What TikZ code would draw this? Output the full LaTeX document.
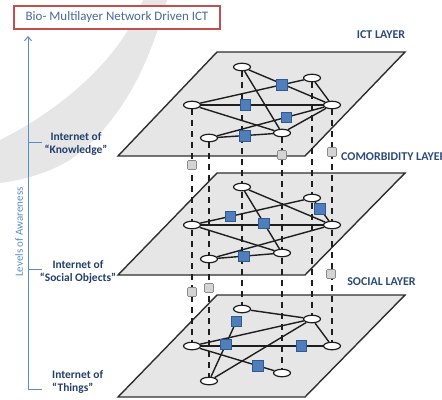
\documentclass[tikz,border=0pt]{standalone}
\usepackage{fontspec}
\setmainfont{Carlito}
\usetikzlibrary{shapes.geometric,arrows.meta,calc}
\pgfdeclarelayer{bg}
\pgfdeclarelayer{mid}
\pgfsetlayers{bg,mid,main}
\definecolor{planefill}{HTML}{E6E6E6}
\definecolor{planeline}{HTML}{2E2E2E}
\definecolor{sqblue}{HTML}{4F7EBB}
\definecolor{sqblueline}{HTML}{2F5A8F}
\definecolor{sqgray}{HTML}{D4D4D4}
\definecolor{sqgrayline}{HTML}{8A8A8A}
\definecolor{labelblue}{HTML}{243F6B}
\definecolor{layerblue}{HTML}{2C4A78}
\definecolor{titleblue}{HTML}{4A6A9A}
\definecolor{titlered}{HTML}{C0504D}
\definecolor{axisblue}{HTML}{5B8BC8}
\definecolor{wmark}{HTML}{E6E6E6}
\definecolor{edgecol}{HTML}{1E1E1E}
\begin{document}
\begin{tikzpicture}[x=1bp,y=-1bp,
  nd/.style={ellipse, draw=edgecol, fill=white, line width=1.2bp, minimum width=17bp, minimum height=7.5bp, inner sep=0pt},
  bsq/.style={rectangle, draw=sqblueline, fill=sqblue, line width=0.6bp, minimum size=10.5bp, inner sep=0pt},
  gsq/.style={rectangle, rounded corners=1bp, draw=sqgrayline, fill=sqgray, line width=0.6bp, minimum size=9bp, inner sep=0pt},
  lnk/.style={line width=1.4bp, draw=edgecol},
  vdash/.style={line width=1.4bp, dash pattern=on 6bp off 5bp, draw=edgecol},
  plane/.style={fill=planefill, draw=planeline, line width=1.4bp, line join=miter},
  lbl/.style={font=\fontsize{11.5}{13.5}\selectfont\bfseries, text=labelblue, align=center, inner sep=0pt},
  layerlbl/.style={font=\fontsize{12}{14}\selectfont\bfseries, text=layerblue, inner sep=0pt},
  axis/.style={draw=axisblue, line width=1bp}
]
\useasboundingbox (0,0) rectangle (442,399);

% watermark swoosh
\begin{pgfonlayer}{bg}
\fill[wmark] (143,0) -- (167,0) .. controls (150,60) and (125,120) .. (70,160)
  .. controls (50,172) and (25,180) .. (0,183) -- (0,140)
  .. controls (60,110) and (120,60) .. (143,0) -- cycle;
% planes
\draw[plane] (217,52) -- (405,52) -- (305,156) -- (118,156) -- cycle;
\draw[plane] (217,173) -- (405,173) -- (305,275) -- (118,275) -- cycle;
\draw[plane] (217,295) -- (405,295) -- (305,397) -- (118,397) -- cycle;
\end{pgfonlayer}

% top layer nodes
\node[nd] (A) at (242,67) {};
\node[nd] (B) at (312,78) {};
\node[nd] (C) at (192,105) {};
\node[nd] (D) at (332,105) {};
\node[nd] (E) at (209,138) {};
\node[nd] (F) at (282,133) {};
% middle layer nodes
\node[nd] (A2) at (242,187) {};
\node[nd] (B2) at (312,198) {};
\node[nd] (C2) at (192,225) {};
\node[nd] (D2) at (332,225) {};
\node[nd] (E2) at (209,259) {};
\node[nd] (F2) at (282,253) {};
% bottom layer nodes
\node[nd] (A3) at (242,309) {};
\node[nd] (B3) at (312,319) {};
\node[nd] (C3) at (192,346) {};
\node[nd] (D3) at (332,346) {};
\node[nd] (E3) at (209,381) {};
\node[nd] (F3) at (282,373) {};

% blue squares
\node[bsq] (s1) at ($(C)!0.75!(B)$) {};
\node[bsq] (s2) at ($(C)!0.38!(D)$) {};
\node[bsq] (s3) at ($(E)!0.63!(D)$) {};
\node[bsq] (s4) at ($(E)!0.49!(F)$) {};
\node[bsq] (m1) at ($(C2)!0.32!(B2)$) {};
\node[bsq] (m2) at ($(B2)!0.4!(D2)$) {};
\node[bsq] (m3) at ($(A2)!0.55!(F2)$) {};
\node[bsq] (m4) at ($(E2)!0.48!(F2)$) {};
\node[bsq] (b1) at ($(A3)!0.17!(E3)$) {};
\node[bsq] (b2) at ($(A3)!0.49!(E3)$) {};
\node[bsq] (b3) at ($(C3)!0.78!(D3)$) {};
\node[bsq] (b4) at ($(C3)!0.73!(F3)$) {};

% gray inter-layer squares
\node[gsq] (g1) at (192,165) {};
\node[gsq] (g2) at (282,155) {};
\node[gsq] (g3) at (332,152) {};
\node[gsq] (g4) at (192,292) {};
\node[gsq] (g5) at (209,288) {};
\node[gsq] (g6) at (331,274) {};

\begin{pgfonlayer}{mid}
% vertical dashed couplings
\draw[vdash] (C) -- (C3);
\draw[vdash] (E) -- (E3);
\draw[vdash] (A) -- (A3);
\draw[vdash] (F) -- (F3);
\draw[vdash] (B) -- (B3);
\draw[vdash] (D) -- (D3);
% top layer edges
\draw[lnk] (C) -- (B);
\draw[lnk] (A) -- (D);
\draw[lnk] (A) -- (F);
\draw[lnk] (B) -- (D);
\draw[lnk] (C) -- (D);
\draw[lnk] (C) -- (F);
\draw[lnk] (E) -- (D);
\draw[lnk] (F) -- (D);
\draw[lnk] (E) -- (F);
% middle layer edges
\draw[lnk] (C2) -- (B2);
\draw[lnk] (A2) -- (D2);
\draw[lnk] (A2) -- (F2);
\draw[lnk] (B2) -- (D2);
\draw[lnk] (C2) -- (D2);
\draw[lnk] (C2) -- (F2);
\draw[lnk] (E2) -- (D2);
\draw[lnk] (E2) -- (F2);
% bottom layer edges
\draw[lnk] (A3) -- (B3);
\draw[lnk] (b1) -- (E3);
\draw[lnk] (C3) -- (B3);
\draw[lnk] (C3) -- (D3);
\draw[lnk] (B3) -- (E3);
\draw[lnk] (B3) -- (D3);
\draw[lnk] (C3) -- (F3);
\end{pgfonlayer}

% title
\node[draw=titlered, line width=1.2bp, fill=white, minimum width=206bp, minimum height=23bp, inner sep=0pt,
  text=titleblue, font=\fontsize{13}{15}\selectfont] (title) at (117,17.5) {Bio- Multilayer Network Driven ICT};

% axis
\coordinate (axtop) at (28,36);
\coordinate (axbot) at (28,389);
\coordinate (t1) at (42,142);
\coordinate (t2) at (42,269);
\coordinate (t3) at (42,389);
\draw[axis, -{Straight Barb[length=4bp,width=7bp]}] (axbot) -- (axtop);
\draw[axis] (28,142) -- (t1);
\draw[axis] (28,269) -- (t2);
\draw[axis] (axbot) -- (t3);
\node[rotate=90, text=axisblue, font=\fontsize{11}{13}\selectfont, inner sep=0pt] (loa) at (19,232) {Levels of Awareness};

% level labels
\node[lbl] (lk) at (76,144) {Internet of\\“Knowledge”};
\node[lbl] (ls) at (78,272) {Internet of\\“Social Objects”};
\node[lbl, align=left, anchor=north west] (lt) at (52,370) {Internet of\\“Things”};

% layer labels
\node[layerlbl] (ict) at (381,35) {ICT LAYER};
\node[layerlbl, anchor=west] (com) at (341,157) {COMORBIDITY LAYER};
\node[layerlbl] (soc) at (381.5,282) {SOCIAL LAYER};
\end{tikzpicture}
\end{document}
